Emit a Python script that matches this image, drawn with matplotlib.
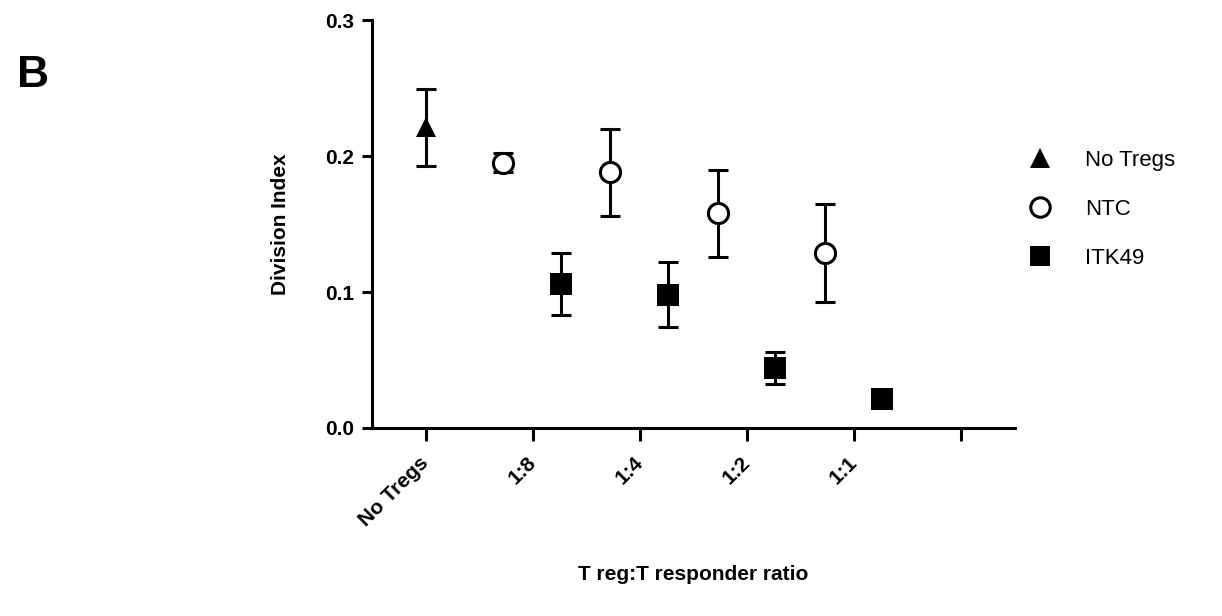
import matplotlib.pyplot as plt
from matplotlib.lines import Line2D

plt.rcParams['font.family'] = ['Liberation Sans', 'DejaVu Sans']

# data
categories = ["No Tregs", "1:8", "1:4", "1:2", "1:1", ""]
no_tregs_mean = [0.221]
no_tregs_err = [0.028]
ntc_mean = [0.195, 0.188, 0.158, 0.129]
ntc_err = [0.007, 0.032, 0.032, 0.036]
itk_mean = [0.106, 0.098, 0.044, 0.021]
itk_err = [0.023, 0.024, 0.012, 0.001]

fig = plt.figure(figsize=(12.22, 6.16), dpi=100)
ax = fig.add_axes([0.3044, 0.3052, 0.5262, 0.6623])

lw = 2.2
bars = dict(fmt='none', ecolor='black', elinewidth=lw, capsize=7.0, capthick=lw, zorder=2)

ntc_x = [i - 0.275 for i in range(1, 5)]
itk_x = [i + 0.26 for i in range(1, 5)]

ax.errorbar([0], no_tregs_mean, yerr=no_tregs_err, **bars)
ax.errorbar(ntc_x, ntc_mean, yerr=ntc_err, **bars)
ax.errorbar(itk_x, itk_mean, yerr=itk_err, **bars)

ax.plot([0], no_tregs_mean, '^', color='black', markersize=15, markeredgewidth=0, zorder=3)
ax.plot(ntc_x, ntc_mean, 'o', markersize=14.5, markerfacecolor='white',
        markeredgecolor='black', markeredgewidth=lw, zorder=3)
ax.plot(itk_x, itk_mean, 's', color='black', markersize=15.3, markeredgewidth=0, zorder=3)

ax.set_xlim(-0.5, 5.5)
ax.set_ylim(0, 0.3)
ax.set_yticks([0.0, 0.1, 0.2, 0.3])
ax.set_yticklabels(['0.0', '0.1', '0.2', '0.3'], fontsize=15, fontweight='bold')
ax.set_xticks(range(len(categories)))
ax.set_xticklabels(categories, fontsize=15, fontweight='bold', rotation=45,
                   ha='right', va='center', rotation_mode='anchor')

for side in ['top', 'right']:
    ax.spines[side].set_visible(False)
for side in ['left', 'bottom']:
    ax.spines[side].set_linewidth(lw)
ax.tick_params(axis='y', length=7, width=lw, pad=6)
ax.tick_params(axis='x', length=9, width=lw, pad=14)

ax.set_ylabel('Division Index', fontsize=15, fontweight='bold')
ax.yaxis.set_label_coords(-0.128, 0.5)
ax.set_xlabel('T reg:T responder ratio', fontsize=15, fontweight='bold')
ax.xaxis.set_label_coords(0.5, -0.336)

handles = [
    Line2D([], [], marker='^', linestyle='none', color='black', markersize=15, markeredgewidth=0),
    Line2D([], [], marker='o', linestyle='none', markerfacecolor='white',
           markeredgecolor='black', markeredgewidth=lw, markersize=14),
    Line2D([], [], marker='s', linestyle='none', color='black', markersize=15, markeredgewidth=0),
]
fig.legend(handles, ['No Tregs', 'NTC', 'ITK49'], loc='center left',
           bbox_to_anchor=(0.824, 0.66), frameon=False, fontsize=16,
           handlelength=1.2, handletextpad=1.4, labelspacing=1.27)

fig.text(0.014, 0.859, 'B', fontsize=32, fontweight='bold')

fig.savefig('out.png', dpi=100)
